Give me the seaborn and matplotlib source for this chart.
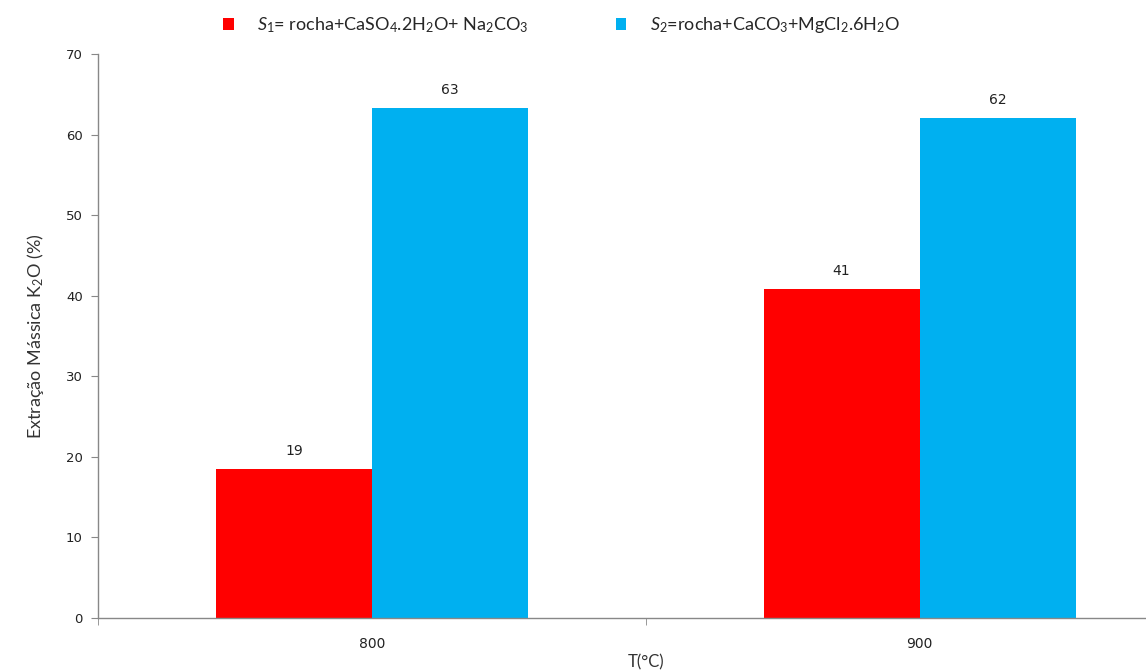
import pandas as pd
import matplotlib
matplotlib.use('Agg')
import matplotlib.pyplot as plt
import seaborn as sns

# dados
temperaturas = ['800', '900']
series = ['$S_{1}$= rocha+CaSO$_{4}$.2H$_{2}$O+ Na$_{2}$CO$_{3}$',
          '$S_{2}$=rocha+CaCO$_{3}$+MgCl$_{2}$.6H$_{2}$O']
extracao_s1 = [18.5, 40.8]
extracao_s2 = [63.3, 62.1]
rotulos_s1 = ['19', '41']
rotulos_s2 = ['63', '62']
cores = ['#FF0000', '#00B0F0']

dados = pd.DataFrame({
    'T': temperaturas * 2,
    'serie': [series[0]] * 2 + [series[1]] * 2,
    'valor': extracao_s1 + extracao_s2,
})

sns.set_style("white")
plt.rcParams['font.family'] = ['Lato', 'DejaVu Sans']
plt.rcParams['mathtext.fontset'] = 'custom'
plt.rcParams['mathtext.rm'] = 'Lato'
plt.rcParams['mathtext.it'] = 'Lato:italic'
plt.rcParams['mathtext.bf'] = 'Lato:bold'

fig = plt.figure(figsize=(11.46, 6.70), dpi=100)
ax = fig.add_axes([0.0855, 0.0776, 0.956, 0.8418])

sns.barplot(data=dados, x='T', y='valor', hue='serie', palette=cores,
            width=0.57, saturation=1, linewidth=0, ax=ax, legend=True)

for cont, rot in zip(ax.containers, [rotulos_s1, rotulos_s2]):
    ax.bar_label(cont, labels=rot, padding=8, fontsize=10, color='#222222',
                 family='DejaVu Sans')

ax.set_xlim(-0.5, 1.5)
ax.set_ylim(0, 70)
ax.set_yticks(range(0, 71, 10))
ax.tick_params(axis='y', length=5, color='#888888', labelsize=9.5,
               labelcolor='#222222', direction='out', left=True, pad=6)
ax.tick_params(axis='x', length=0, labelsize=10, labelcolor='#222222', pad=14)
ax.set_xticks([-0.5, 0.5, 1.5], minor=True)
ax.tick_params(axis='x', which='minor', length=5, color='#888888', bottom=True)
for lbl in ax.get_yticklabels() + ax.get_xticklabels():
    lbl.set_family('DejaVu Sans')

for s in ['top', 'right']:
    ax.spines[s].set_visible(False)
for s in ['left', 'bottom']:
    ax.spines[s].set_color('#888888')
    ax.spines[s].set_linewidth(1)

ax.set_ylabel('Extração Mássica K$_{2}$O (%)', fontsize=13, color='#333333', labelpad=14)
ax.set_xlabel('T(°C)', fontsize=12, color='#333333', labelpad=2)

handles, labels = ax.get_legend_handles_labels()
ax.legend(handles, labels, ncol=2, frameon=False, fontsize=13,
          loc='center', bbox_to_anchor=(0.49, 0.962), bbox_transform=fig.transFigure,
          handlelength=0.6, handleheight=0.6, columnspacing=4.8, handletextpad=1.3)

plt.savefig('out.png', dpi=100)
